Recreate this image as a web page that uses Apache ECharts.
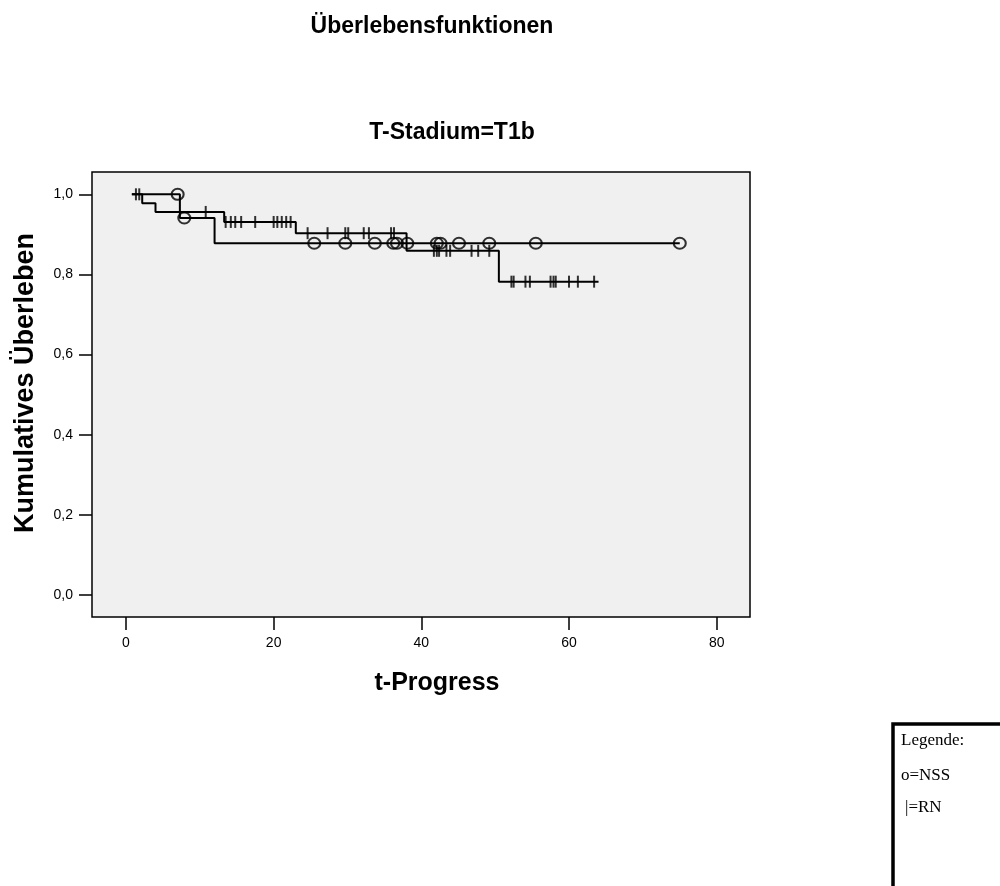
<!DOCTYPE html>
<html>
<head>
<meta charset="utf-8">
<script src="https://cdn.jsdelivr.net/npm/echarts@6/dist/echarts.min.js"></script>
<style>
html,body{margin:0;padding:0;background:#fff;}
#chart{width:1000px;height:886px;}
</style>
</head>
<body>
<div id="chart"></div>
<script>
// tick labels
var xTicks = [0, 20, 40, 60, 80];
var yTicks = [0, 0.2, 0.4, 0.6, 0.8, 1.0];

// NSS: Stufen der Überlebenskurve [Zeit, Überleben]
var nssSteps = [[0.8, 1.0], [7.3, 0.941], [12.0, 0.878], [75.0, 0.878]];
// NSS: zensierte Fälle (o)
var nssCensored = [
  [7.0, 1.0], [7.9, 0.941],
  [25.5, 0.878], [29.7, 0.878], [33.7, 0.878], [36.2, 0.878], [36.7, 0.878],
  [38.1, 0.878], [42.1, 0.878], [42.6, 0.878], [45.1, 0.878], [49.2, 0.878],
  [55.5, 0.878], [75.0, 0.878]
];

// RN: Stufen der Überlebenskurve
var rnSteps = [[0.8, 1.0], [2.2, 0.978], [4.0, 0.956], [13.3, 0.931], [23.0, 0.903],
  [38.0, 0.859], [50.5, 0.782], [64.0, 0.782]];
// RN: zensierte Fälle (|)
var rnCensored = [
  [1.35, 1.0], [1.8, 1.0],
  [10.8, 0.956],
  [13.5, 0.931], [14.2, 0.931], [14.8, 0.931], [15.6, 0.931], [17.5, 0.931],
  [20.0, 0.931], [20.5, 0.931], [21.1, 0.931], [21.7, 0.931], [22.3, 0.931],
  [24.6, 0.903], [27.3, 0.903], [29.7, 0.903], [30.1, 0.903], [32.2, 0.903],
  [32.9, 0.903], [35.9, 0.903], [36.3, 0.903],
  [41.7, 0.859], [42.1, 0.859], [42.4, 0.859], [43.4, 0.859], [43.9, 0.859],
  [46.8, 0.859], [47.7, 0.859], [49.2, 0.859],
  [52.2, 0.782], [52.5, 0.782], [54.1, 0.782], [54.7, 0.782], [57.5, 0.782],
  [57.9, 0.782], [58.2, 0.782], [60.0, 0.782], [61.2, 0.782], [63.4, 0.782]
];

var myChart = echarts.init(document.getElementById('chart'));
var sans = 'Liberation Sans, Arial, sans-serif';
var serif = 'Liberation Serif, Times New Roman, serif';

var option = {
  animation: false,
  backgroundColor: '#fff',
  grid: {
    show: true,
    left: 92, top: 172, width: 658, height: 445,
    backgroundColor: '#f0f0f0',
    borderColor: '#000',
    borderWidth: 1.5
  },
  xAxis: {
    type: 'value',
    min: -4.60,
    max: 84.51,
    axisLine: {show: false, onZero: false},
    splitLine: {show: false},
    axisTick: {show: true, customValues: xTicks, length: 13, lineStyle: {color: '#000', width: 1.5}},
    axisLabel: {customValues: xTicks, margin: 19, color: '#000', fontFamily: sans, fontSize: 14}
  },
  yAxis: {
    type: 'value',
    min: -0.0549,
    max: 1.0557,
    axisLine: {show: false, onZero: false},
    splitLine: {show: false},
    axisTick: {show: true, customValues: yTicks, length: 13, lineStyle: {color: '#000', width: 1.5}},
    axisLabel: {
      customValues: yTicks, margin: 19, color: '#000', fontFamily: sans, fontSize: 14,
      formatter: function (v) { return v.toFixed(1).replace('.', ','); }
    }
  },
  series: [
    {
      name: 'NSS', type: 'line', step: 'end', data: nssSteps,
      showSymbol: false, lineStyle: {color: '#000', width: 2}
    },
    {
      name: 'RN', type: 'line', step: 'end', data: rnSteps,
      showSymbol: false, lineStyle: {color: '#000', width: 2}
    },
    {
      name: 'NSS zensiert', type: 'scatter', data: nssCensored,
      symbol: 'circle', symbolSize: [12, 11],
      itemStyle: {color: 'rgba(0,0,0,0)', borderColor: '#000', borderWidth: 2}
    },
    {
      name: 'RN zensiert', type: 'scatter', data: rnCensored,
      symbol: 'rect', symbolSize: [2, 12],
      itemStyle: {color: '#000'}
    }
  ],
  graphic: [
    {type: 'text', x: 432, y: 27, style: {text: 'Überlebensfunktionen', font: 'bold 23px ' + sans, fill: '#000', align: 'center', verticalAlign: 'middle'}},
    {type: 'text', x: 452, y: 133, style: {text: 'T-Stadium=T1b', font: 'bold 23px ' + sans, fill: '#000', align: 'center', verticalAlign: 'middle'}},
    {type: 'text', x: 26, y: 383, rotation: Math.PI / 2, style: {text: 'Kumulatives Überleben', font: 'bold 27px ' + sans, fill: '#000', align: 'center', verticalAlign: 'middle'}},
    {type: 'text', x: 437, y: 683, style: {text: 't-Progress', font: 'bold 25px ' + sans, fill: '#000', align: 'center', verticalAlign: 'middle'}},
    {type: 'rect', shape: {x: 893, y: 724, width: 200, height: 300}, style: {fill: '#fff', stroke: '#000', lineWidth: 3.5}},
    {type: 'text', x: 901, y: 741, style: {text: 'Legende:', font: '17px ' + serif, fill: '#000', verticalAlign: 'middle'}},
    {type: 'text', x: 901, y: 776, style: {text: 'o=NSS', font: '17px ' + serif, fill: '#000', verticalAlign: 'middle'}},
    {type: 'text', x: 905, y: 808, style: {text: '|=RN', font: '17px ' + serif, fill: '#000', verticalAlign: 'middle'}}
  ]
};

myChart.setOption(option);
</script>
</body>
</html>
